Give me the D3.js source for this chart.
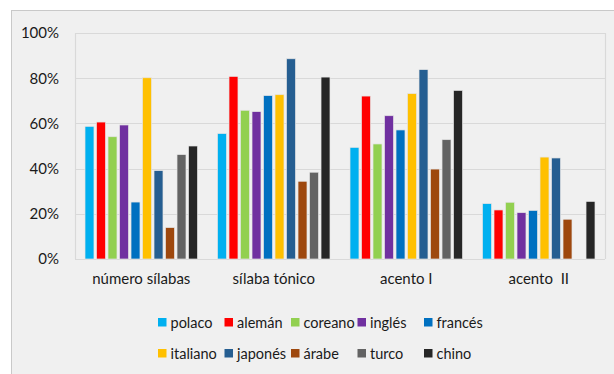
<!DOCTYPE html>
<html>
<head>
<meta charset="utf-8">
<script src="https://cdn.jsdelivr.net/npm/d3@7"></script>
<style>
  body { margin: 0; background: #fff; }
  svg text { font-family: Lato, "Open Sans", sans-serif; fill: #1a1a1a; }
</style>
</head>
<body>
<svg id="chart" width="614" height="374"></svg>
<script>
// categories on the x axis
const categories = ["número sílabas", "sílaba tónico", "acento I", "acento  II"];
// series (languages) and their colours
const languages = ["polaco", "alemán", "coreano", "inglés", "francés",
                   "italiano", "japonés", "árabe", "turco", "chino"];
const colors = ["#00b0f0", "#ff0000", "#92d050", "#7030a0", "#0070c0",
                "#ffc000", "#255e91", "#9e480e", "#636363", "#262626"];
// percentages per language, one entry per category
const polaco   = [58.7, 55.5, 49.4, 24.5];
const aleman   = [60.6, 80.8, 72.1, 21.7];
const coreano  = [54.1, 65.8, 50.9, 25.1];
const ingles   = [59.3, 65.2, 63.4, 20.5];
const frances  = [25.2, 72.3, 57.1, 21.5];
const italiano = [80.2, 72.7, 73.2, 45.1];
const japones  = [39.1, 88.6, 83.8, 44.7];
const arabe    = [13.9, 34.4, 39.8, 17.6];
const turco    = [46.2, 38.4, 52.8, null];
const chino    = [50.0, 80.5, 74.6, 25.5];
const yTicks = [0, 20, 40, 60, 80, 100];

const series = [polaco, aleman, coreano, ingles, frances, italiano, japones, arabe, turco, chino];

const svg = d3.select("#chart");

// outer chart area
svg.append("rect")
  .attr("x", 11.5).attr("y", 10.5)
  .attr("width", 614).attr("height", 374)
  .attr("fill", "#f0f0f0")
  .attr("stroke", "#c9c9c9");

const plotLeft = 75, plotRight = 605, plotTop = 33, plotBottom = 259;

const x0 = d3.scaleBand().domain(categories).range([plotLeft, plotRight]);
const x1 = d3.scaleBand().domain(languages).range([0, x0.bandwidth()])
  .paddingInner(0.22).paddingOuter(0.87);
const y = d3.scaleLinear().domain([0, 100]).range([plotBottom, plotTop]);
const color = d3.scaleOrdinal(languages, colors);

// grid lines
svg.append("g").selectAll("line")
  .data(yTicks)
  .join("line")
  .attr("x1", plotLeft).attr("x2", plotRight)
  .attr("y1", d => Math.round(y(d)) + 0.5).attr("y2", d => Math.round(y(d)) + 0.5)
  .attr("stroke", "#d9d9d9").attr("stroke-width", 1.2);

// plot area side borders
svg.append("g").selectAll("line")
  .data([plotLeft, plotRight])
  .join("line")
  .attr("x1", d => d + 0.5).attr("x2", d => d + 0.5)
  .attr("y1", y(100)).attr("y2", y(0))
  .attr("stroke", "#d9d9d9").attr("stroke-width", 1.2);

// y axis labels
const yAxis = d3.axisLeft(y).tickValues(yTicks).tickFormat(d => d + "%").tickSize(0).tickPadding(16);
const ya = svg.append("g").attr("transform", `translate(${plotLeft},0)`).call(yAxis);
ya.select(".domain").remove();
ya.selectAll("text").attr("font-size", 15).style("font-family", "Lato, sans-serif").attr("fill", "#1a1a1a");

// bars
const rows = categories.map((c, i) => ({
  cat: c,
  vals: languages.map((l, j) => ({ lang: l, v: series[j][i] }))
}));

svg.append("g").selectAll("g")
  .data(rows)
  .join("g")
  .attr("transform", d => `translate(${x0(d.cat)},0)`)
  .selectAll("rect")
  .data(d => d.vals.filter(e => e.v != null))
  .join("rect")
  .attr("x", d => x1(d.lang))
  .attr("y", d => y(d.v))
  .attr("width", x1.bandwidth())
  .attr("height", d => y(0) - y(d.v))
  .attr("fill", d => color(d.lang))
  .attr("stroke", "#e4e4e4")
  .attr("stroke-width", 0.7);

// x axis labels
const xAxis = d3.axisBottom(x0).tickSize(0).tickPadding(14);
const xa = svg.append("g").attr("transform", `translate(0,${plotBottom})`).call(xAxis);
xa.select(".domain").remove();
xa.selectAll("text").attr("font-size", 15).style("font-family", "Lato, sans-serif")
  .attr("fill", "#1a1a1a").style("white-space", "pre");

// legend
const legendX = [158, 224.5, 291, 357.5, 424];
const legendY = [322.5, 353.5];
const leg = svg.append("g").selectAll("g")
  .data(languages)
  .join("g")
  .attr("transform", (d, i) => `translate(${legendX[i % 5]},${legendY[Math.floor(i / 5)]})`);
leg.append("rect")
  .attr("x", 0).attr("y", -4.5).attr("width", 8.5).attr("height", 8.5)
  .attr("fill", d => color(d));
leg.append("text")
  .attr("x", 12.5).attr("dy", "0.35em")
  .attr("font-size", 14.5)
  .text(d => d);
</script>
</body>
</html>
